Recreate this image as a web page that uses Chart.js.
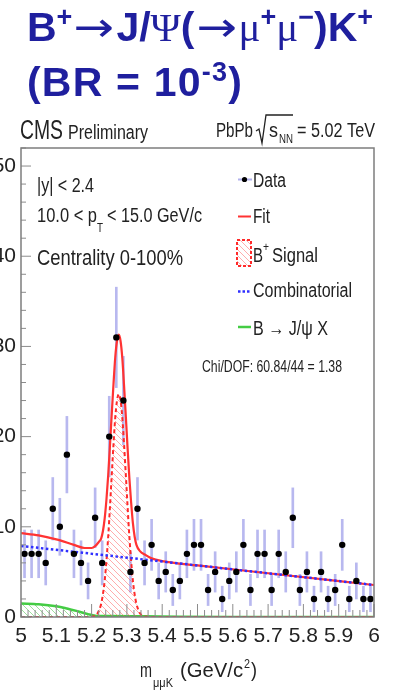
<!DOCTYPE html>
<html>
<head>
<meta charset="utf-8">
<script src="https://cdn.jsdelivr.net/npm/chart.js@4.4.1/dist/chart.umd.min.js"></script>
<style>
  html, body { margin: 0; padding: 0; background: #fff; }
  #wrap { position: relative; width: 414px; height: 691px; overflow: hidden; }
  #plot { position: absolute; left: 0; top: 0; }
  .title { position: absolute; left: 27px; font-family: 'Liberation Sans', Arial, sans-serif; font-weight: bold;
           font-size: 41px; line-height: 48px; color: #1f1f9e; white-space: nowrap; }
  .sym { font-family: 'Liberation Serif', 'Times New Roman', serif; font-weight: normal; }
  .sup { position: relative; top: -15px; font-size: 27px; }
  .arr { display: inline-block; width: 44px; text-align: center; font-family: 'DejaVu Sans', sans-serif;
         font-weight: normal; transform: scaleX(1.18); }
</style>
</head>
<body>
<div id="wrap">
  <canvas id="plot" width="414" height="691"></canvas>
  <div class="title" style="top:3px">B<span class="sup">+</span><span class="arr">→</span>J/<span class="sym">Ψ</span>(<span class="arr">→</span><span class="sym">μ</span><span class="sup">+</span><span class="sym">μ</span><span class="sup">−</span>)K<span class="sup">+</span></div>
  <div class="title" style="top:58px; letter-spacing:1.2px">(BR = 10<span class="sup">-3</span>)</div>
</div>
<script>
// data histogram: bin centres (GeV/c^2) and counts per bin
const massBins = [5.01, 5.03, 5.05, 5.07, 5.09, 5.11, 5.13, 5.15, 5.17, 5.19,
                  5.21, 5.23, 5.25, 5.27, 5.29, 5.31, 5.33, 5.35, 5.37, 5.39,
                  5.41, 5.43, 5.45, 5.47, 5.49, 5.51, 5.53, 5.55, 5.57, 5.59,
                  5.61, 5.63, 5.65, 5.67, 5.69, 5.71, 5.73, 5.75, 5.77, 5.79,
                  5.81, 5.83, 5.85, 5.87, 5.89, 5.91, 5.93, 5.95, 5.97, 5.99];
const counts = [7, 7, 7, 6, 12, 10, 18, 7, 6, 4,
                11, 6, 20, 31, 24, 5, 12, 6, 8, 4,
                5, 3, 4, 7, 8, 8, 3, 5, 2, 4,
                5, 8, 3, 7, 7, 3, 7, 5, 11, 3,
                5, 2, 5, 2, 3, 8, 2, 4, 2, 2];

// fit components
const fitMass = [5.00, 5.05, 5.10, 5.15, 5.18, 5.20, 5.21, 5.22, 5.227, 5.232, 5.237, 5.242, 5.247, 5.252,
                 5.257, 5.262, 5.267, 5.272, 5.277, 5.282, 5.287, 5.292, 5.297, 5.302, 5.307, 5.312,
                 5.317, 5.322, 5.327, 5.337, 5.352, 5.37, 5.40, 5.50, 5.70, 6.00];
const fitYield = [9.3, 9.05, 8.6, 8.0, 7.65, 7.65, 7.85, 8.3, 8.7, 9.5, 10.9, 13.0, 15.7, 19.0,
                  22.5, 25.8, 28.8, 30.6, 31.3, 30.6, 28.7, 25.6, 22.2, 18.7, 15.4, 12.7,
                  10.4, 8.9, 8.0, 7.3, 6.9, 6.5, 6.2, 5.72, 4.85, 3.55];

const signalMass = [5.00, 5.19, 5.207, 5.217, 5.227, 5.232, 5.237, 5.242, 5.247, 5.252, 5.257, 5.262,
                    5.267, 5.272, 5.277, 5.282, 5.287, 5.292, 5.297, 5.302, 5.307, 5.312, 5.317,
                    5.322, 5.327, 5.337, 5.347, 5.36, 5.40, 6.00];
const signalYield = [0, 0, 0.1, 0.42, 1.45, 2.5, 4.0, 6.2, 8.9, 12.2, 15.7, 19.1,
                     22.1, 24.0, 24.7, 24.0, 22.1, 19.1, 15.7, 12.2, 8.9, 6.2, 4.0,
                     2.5, 1.45, 0.42, 0.1, 0.02, 0, 0];

const combMass = [5.00, 6.00];
const combYield = [7.88, 3.55];

const peakingMass = [5.00, 5.05, 5.10, 5.13, 5.16, 5.19, 5.21, 5.25, 5.35, 5.45, 5.60, 6.00];
const peakingYield = [1.5, 1.42, 1.2, 0.95, 0.65, 0.32, 0.15, 0.1, 0.07, 0.03, 0, 0];

// axis labels
const yTickValues = [0, 10, 20, 30, 40, 50];

const SANS = "'Liberation Sans', Arial, sans-serif";
const TICK_FONT = "'Liberation Sans Narrow', 'Liberation Sans', Arial, sans-serif";

function pts(xs, ys) {
    return xs.map((x, i) => ({ x: x, y: ys[i] }));
}

function hatch(color) {
    const c = document.createElement("canvas");
    c.width = 6; c.height = 6;
    const g = c.getContext("2d");
    g.strokeStyle = color;
    g.lineWidth = 1;
    g.beginPath();
    g.moveTo(-1, -1); g.lineTo(7, 7);
    g.stroke();
    return g.createPattern(c, "repeat");
}

const redHatch = hatch("rgba(255,90,90,0.5)");
const greenHatch = hatch("rgba(60,190,60,0.5)");

// text squeezed to a given width, like the narrow ROOT font
function txt(ctx, s, x, y, size, w, color) {
    ctx.save();
    ctx.font = size + "px " + SANS;
    ctx.fillStyle = color || "#222";
    ctx.textAlign = "left";
    ctx.textBaseline = "alphabetic";
    const m = ctx.measureText(s).width;
    ctx.translate(x, y);
    if (w) ctx.scale(w / m, 1);
    ctx.fillText(s, 0, 0);
    ctx.restore();
}

function seg(ctx, x1, y1, x2, y2, color, width, dash) {
    ctx.save();
    ctx.strokeStyle = color;
    ctx.lineWidth = width;
    ctx.setLineDash(dash || []);
    ctx.beginPath();
    ctx.moveTo(x1, y1); ctx.lineTo(x2, y2);
    ctx.stroke();
    ctx.restore();
}

const rootDecor = {
    id: "rootDecor",
    afterDraw(chart) {
        const ctx = chart.ctx;
        const a = chart.chartArea;
        const xs = chart.scales.x, ys = chart.scales.y;

        // inner ticks
        const tickCol = "#8c8c8c";
        const xt = xs.ticks.map(t => t.value);
        for (let i = 0; i < xt.length; i++) {
            const px = xs.getPixelForValue(xt[i]);
            seg(ctx, px, a.bottom, px, a.bottom - 13, tickCol, 1);
            if (i < xt.length - 1) {
                for (let j = 1; j < 5; j++) {
                    const q = xs.getPixelForValue(xt[i] + (xt[i + 1] - xt[i]) * j / 5);
                    seg(ctx, q, a.bottom, q, a.bottom - 7, tickCol, 1);
                }
            }
        }
        const yt = ys.ticks.map(t => t.value);
        for (let i = 0; i < yt.length; i++) {
            const py = ys.getPixelForValue(yt[i]);
            seg(ctx, a.left, py, a.left + 10, py, tickCol, 1);
            for (let j = 1; j < 5; j++) {
                const v = yt[i] + 2 * j;
                if (v > ys.max) break;
                const q = ys.getPixelForValue(v);
                seg(ctx, a.left, q, a.left + 5, q, tickCol, 1);
            }
        }

        // frame
        ctx.save();
        ctx.strokeStyle = "#7d7d7d";
        ctx.lineWidth = 1.5;
        ctx.strokeRect(a.left, a.top, a.right - a.left, a.bottom - a.top);
        ctx.restore();

        // header
        txt(ctx, "CMS", 20, 139, 27, 43);
        txt(ctx, "Preliminary", 68, 139, 20, 80);
        txt(ctx, "PbPb", 216, 137, 20, 37);
        ctx.save();
        ctx.strokeStyle = "#222"; ctx.lineWidth = 1.3;
        ctx.beginPath();
        ctx.moveTo(256, 131); ctx.lineTo(259, 129); ctx.lineTo(262, 143);
        ctx.lineTo(266, 115); ctx.lineTo(293, 115);
        ctx.stroke();
        ctx.restore();
        txt(ctx, "s", 269, 137, 20, 9);
        txt(ctx, "NN", 279, 143, 12, 14);
        txt(ctx, "= 5.02 TeV", 297, 137, 20, 78);

        // cuts
        txt(ctx, "|y| < 2.4", 37, 192, 20, 57);
        txt(ctx, "10.0 < p", 37, 222, 20, 60);
        txt(ctx, "T", 97, 232, 13, 6);
        txt(ctx, "< 15.0 GeV/c", 107, 222, 20, 95);
        txt(ctx, "Centrality 0-100%", 37, 265, 22, 146);

        // legend
        const lx1 = 238, lx2 = 251;
        seg(ctx, lx1, 179.5, lx2 + 1, 179.5, "rgba(125,125,225,0.6)", 2);
        ctx.save();
        ctx.fillStyle = "#000";
        ctx.beginPath(); ctx.arc(244.5, 179.5, 2.6, 0, Math.PI * 2); ctx.fill();
        ctx.restore();
        txt(ctx, "Data", 253, 187, 20, 33);

        seg(ctx, lx1, 216.5, lx2, 216.5, "#ff3333", 2);
        txt(ctx, "Fit", 253, 223, 20, 17);

        ctx.save();
        ctx.fillStyle = redHatch;
        ctx.fillRect(237, 240, 14, 26);
        ctx.strokeStyle = "#ff2a2a"; ctx.lineWidth = 2; ctx.setLineDash([3, 2]);
        ctx.strokeRect(237, 240, 14, 26);
        ctx.restore();
        txt(ctx, "B", 253, 262, 20, 10);
        txt(ctx, "+", 263, 251, 12, 6);
        txt(ctx, "Signal", 272, 262, 20, 46);

        seg(ctx, lx1, 291.5, lx2, 291.5, "#2f2fff", 2.5, [2.5, 2]);
        txt(ctx, "Combinatorial", 253, 297, 20, 99);

        seg(ctx, lx1, 327, lx2, 327, "#44cc44", 2.5);
        txt(ctx, "B → J/ψ X", 253, 335, 20, 75);

        txt(ctx, "Chi/DOF: 60.84/44 = 1.38", 202, 372, 16, 140);

        // x-axis title
        txt(ctx, "m", 140, 677, 21, 12);
        txt(ctx, "μμK", 153, 687, 13, 20);
        txt(ctx, "(GeV/c", 180, 677, 21, 63);
        txt(ctx, "2", 244, 668, 13, 6);
        txt(ctx, ")", 251, 677, 21, 6);
    }
};

const errorBars = massBins.map((m, i) => ({
    x: m,
    y: [counts[i] - Math.sqrt(counts[i]), counts[i] + Math.sqrt(counts[i])]
}));

const ctx = document.getElementById("plot").getContext("2d");

new Chart(ctx, {
    type: "scatter",
    data: {
        datasets: [
            {
                type: "bar", label: "Data errors", data: errorBars,
                backgroundColor: "rgba(125,125,225,0.55)", borderWidth: 0,
                barThickness: 2, grouped: false, order: 10
            },
            {
                type: "line", label: "B → J/ψ X", data: pts(peakingMass, peakingYield),
                borderColor: "#44cc44", borderWidth: 2.5, fill: "origin", backgroundColor: greenHatch,
                pointRadius: 0, cubicInterpolationMode: "monotone", order: 9
            },
            {
                type: "line", label: "B+ Signal", data: pts(signalMass, signalYield),
                borderColor: "#ff2a2a", borderWidth: 2, borderDash: [4, 3], fill: "origin", backgroundColor: redHatch,
                pointRadius: 0, cubicInterpolationMode: "monotone", order: 8
            },
            {
                type: "line", label: "Fit", data: pts(fitMass, fitYield),
                borderColor: "#ff3333", borderWidth: 2.2, fill: false,
                pointRadius: 0, cubicInterpolationMode: "monotone", order: 7
            },
            {
                type: "line", label: "Combinatorial", data: pts(combMass, combYield),
                borderColor: "#2f2fff", borderWidth: 2.5, borderDash: [2.5, 2.5], fill: false,
                pointRadius: 0, order: 6
            },
            {
                type: "scatter", label: "Data", data: pts(massBins, counts),
                backgroundColor: "#000", borderWidth: 0, pointRadius: 3.2, order: 1
            }
        ]
    },
    options: {
        responsive: false,
        animation: false,
        layout: { padding: { left: 0, right: 40, top: 148, bottom: 0 } },
        plugins: { legend: { display: false }, tooltip: { enabled: false } },
        scales: {
            x: {
                type: "linear", min: 5, max: 6, offset: false,
                grid: { display: false, drawTicks: false, tickLength: 0 }, border: { display: false },
                afterFit: (s) => { s.height = 74; },
                ticks: {
                    stepSize: 0.1, autoSkip: false, maxRotation: 0, minRotation: 0, padding: 7,
                    color: "#222", font: { family: TICK_FONT, size: 21 },
                    callback: (v) => String(Math.round(v * 10) / 10)
                }
            },
            y: {
                min: 0, max: 52,
                grid: { display: false, drawTicks: false, tickLength: 0 }, border: { display: false },
                afterBuildTicks: (s) => { s.ticks = yTickValues.map(v => ({ value: v })); },
                afterFit: (s) => { s.width = 21; },
                ticks: {
                    padding: 5,
                    color: "#222", font: { family: TICK_FONT, size: 21 },
                    callback: (v) => String(v)
                }
            }
        }
    },
    plugins: [rootDecor]
});
</script>
</body>
</html>
